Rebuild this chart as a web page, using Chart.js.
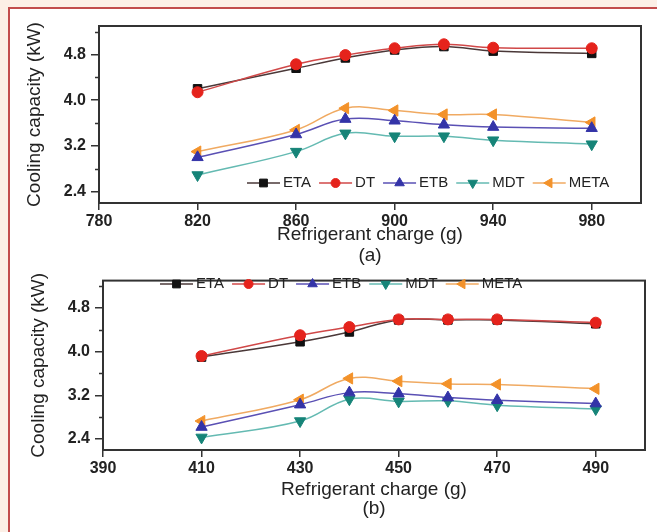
<!DOCTYPE html>
<html>
<head>
<meta charset="utf-8">
<script src="https://cdn.jsdelivr.net/npm/chart.js@4.4.1/dist/chart.umd.min.js"></script>
<style>
    html, body { margin: 0; padding: 0; background: #fcefe6; overflow: hidden; }
    #frame {
        position: absolute; left: 8px; top: 7px; width: 700px; height: 560px;
        background: #fff; border-left: 2px solid #c24c4c; border-top: 2px solid #c24c4c;
    }
    canvas { position: absolute; left: 0; }
</style>
</head>
<body>
<div id="frame"></div>
<canvas id="chartA" width="657" height="266" style="top:0"></canvas>
<canvas id="chartB" width="657" height="266" style="top:266px"></canvas>
<script>
// --- Datos ---
const seriesNames = ['ETA', 'DT', 'ETB', 'MDT', 'META'];

// (a) refrigerant charge in g
const chargeA = [820, 860, 880, 900, 920, 940, 980];
const etaA  = [4.20, 4.56, 4.74, 4.88, 4.94, 4.86, 4.82];
const dtA   = [4.14, 4.63, 4.79, 4.91, 4.98, 4.92, 4.91];
const etbA  = [3.00, 3.40, 3.67, 3.64, 3.57, 3.53, 3.51];
const mdtA  = [2.69, 3.10, 3.42, 3.37, 3.37, 3.30, 3.23];
const metaA = [3.10, 3.48, 3.86, 3.82, 3.75, 3.75, 3.61];
const xTicksA = [780, 820, 860, 900, 940, 980];

// (b)
const chargeB = [410, 430, 440, 450, 460, 470, 490];
const etaB  = [3.90, 4.18, 4.36, 4.58, 4.58, 4.58, 4.51];
const dtB   = [3.92, 4.30, 4.45, 4.59, 4.59, 4.59, 4.53];
const etbB  = [2.62, 3.03, 3.25, 3.23, 3.16, 3.11, 3.05];
const mdtB  = [2.43, 2.73, 3.13, 3.09, 3.10, 3.02, 2.95];
const metaB = [2.73, 3.12, 3.51, 3.46, 3.41, 3.40, 3.32];
const xTicksB = [390, 410, 430, 450, 470, 490];

const yTicks = [2.4, 3.2, 4.0, 4.8];
const yMin = 2.2, yMax = 5.3;

// --- Estilos ---
const FONT = '"Liberation Sans", Arial, sans-serif';
const styles = {
    ETA:  { line: '#4a3838', fill: '#111111', point: 'rect',     rot: 0,   r: 6 },
    DT:   { line: '#d04848', fill: '#e5231c', point: 'circle',   rot: 0,   r: 5.5 },
    ETB:  { line: '#5a50b4', fill: '#3434a8', point: 'triangle', rot: 0,   r: 6.5 },
    MDT:  { line: '#64bab2', fill: '#168478', point: 'triangle', rot: 180, r: 6.5 },
    META: { line: '#f0aa62', fill: '#f3922a', point: 'triangle', rot: 270, r: 6.5 }
};

// minor ticks halfway between the major ones
function minorsOf(major) {
    const step = major[1] - major[0];
    const out = major.map(v => v - step / 2);
    out.push(major[major.length - 1] + step / 2);
    return out;
}

function buildDatasets(charges, values) {
    return seriesNames.map((name, i) => {
        const st = styles[name];
        return {
            label: name,
            data: charges.map((c, k) => ({ x: c, y: values[i][k] })),
            borderColor: st.line,
            borderWidth: 1.5,
            backgroundColor: st.fill,
            pointBackgroundColor: st.fill,
            pointBorderColor: st.fill,
            pointBorderWidth: 1,
            pointStyle: st.point,
            pointRotation: st.rot,
            pointRadius: st.r,
            tension: 0.4,
            order: name === 'ETA' ? 2 : 1
        };
    });
}

// box, minor ticks and Origin-style legend
const framePlugin = {
    id: 'framePlugin',
    afterDraw(chart, args, opts) {
        const ctx = chart.ctx, a = chart.chartArea;
        const ys = chart.scales.y;
        ctx.save();
        ctx.strokeStyle = '#333';
        ctx.lineWidth = 1.5;
        ctx.beginPath();
        minorsOf(yTicks).forEach(v => {
            if (v < yMin || v > yMax) return;
            const py = Math.round(ys.getPixelForValue(v)) + 0.5;
            ctx.moveTo(a.left, py);
            ctx.lineTo(a.left - 4, py);
        });
        ctx.stroke();
        ctx.lineWidth = 2;
        ctx.strokeRect(a.left, a.top, a.right - a.left, a.bottom - a.top);

        // legend
        let lx = opts.x;
        const ly = opts.y;
        ctx.font = '15px ' + FONT;
        ctx.textBaseline = 'middle';
        ctx.textAlign = 'left';
        chart.data.datasets.forEach(ds => {
            ctx.strokeStyle = ds.borderColor;
            ctx.lineWidth = 1.5;
            ctx.beginPath();
            ctx.moveTo(lx, ly);
            ctx.lineTo(lx + 33, ly);
            ctx.stroke();
            ctx.fillStyle = ds.pointBackgroundColor;
            ctx.strokeStyle = ds.pointBorderColor;
            ctx.lineWidth = 1;
            Chart.helpers.drawPoint(ctx, {
                pointStyle: ds.pointStyle, rotation: ds.pointRotation,
                radius: ds.pointStyle === 'circle' ? 4.5 : 5.5, borderWidth: 1
            }, lx + 16.5, ly);
            ctx.fillStyle = '#222';
            ctx.fillText(ds.label, lx + 36, ly);
            lx += 36 + ctx.measureText(ds.label).width + 8;
        });
        ctx.restore();
    }
};

function makeChart(id, charges, values, xTicks, xMin, xMax, lay) {
    return new Chart(document.getElementById(id), {
        type: 'line',
        data: { datasets: buildDatasets(charges, values) },
        plugins: [framePlugin],
        options: {
            responsive: false,
            animation: false,
            devicePixelRatio: 1,
            layout: { padding: { left: 0, top: lay.top, right: lay.right, bottom: 0 } },
            plugins: {
                legend: { display: false },
                tooltip: { enabled: false },
                framePlugin: { x: lay.legendX, y: lay.legendY }
            },
            scales: {
                x: {
                    type: 'linear',
                    min: xMin,
                    max: xMax,
                    afterBuildTicks: s => { s.ticks = xTicks.map(v => ({ value: v })); },
                    afterFit: s => { s.height = lay.xHeight; },
                    ticks: {
                        color: '#222', padding: 2, maxRotation: 0, autoSkip: false,
                        font: { family: FONT, size: 16, weight: 'bold' }
                    },
                    grid: { drawOnChartArea: false, drawTicks: true, tickLength: 7, color: '#333', lineWidth: 1.5 },
                    border: { display: true, color: '#333', width: 2 },
                    title: {
                        display: true,
                        text: ['Refrigerant charge (g)', lay.caption],
                        color: '#222',
                        font: { family: FONT, size: 19, lineHeight: lay.titleLH },
                        padding: { top: 0, bottom: lay.titleBottom }
                    }
                },
                y: {
                    type: 'linear',
                    min: yMin,
                    max: yMax,
                    afterBuildTicks: s => { s.ticks = yTicks.map(v => ({ value: v })); },
                    afterFit: s => { s.width = lay.yWidth; },
                    ticks: {
                        color: '#222', padding: 5,
                        callback: v => v.toFixed(1),
                        font: { family: FONT, size: 16, weight: 'bold' }
                    },
                    grid: { drawOnChartArea: false, drawTicks: true, tickLength: 8, color: '#333', lineWidth: 1.5 },
                    border: { display: true, color: '#333', width: 2 },
                    title: {
                        display: true,
                        text: 'Cooling capacity (kW)',
                        color: '#222',
                        font: { family: FONT, size: 19 },
                        padding: { top: lay.yTitlePad, bottom: 0 }
                    }
                }
            }
        }
    });
}

makeChart('chartA', chargeA, [etaA, dtA, etbA, mdtA, metaA], xTicksA, 780, 1000, {
    top: 26, right: 16, xHeight: 63, yWidth: 99, yTitlePad: 23,
    caption: '(a)', titleLH: 1.1, titleBottom: 0,
    legendX: 247, legendY: 183
});

makeChart('chartB', chargeB, [etaB, dtB, etbB, mdtB, metaB], xTicksB, 390, 500, {
    top: 7, right: 12, xHeight: 82, yWidth: 103, yTitlePad: 27,
    caption: '(b)', titleLH: 1.0, titleBottom: 14,
    legendX: 160, legendY: 18
});
</script>
</body>
</html>
